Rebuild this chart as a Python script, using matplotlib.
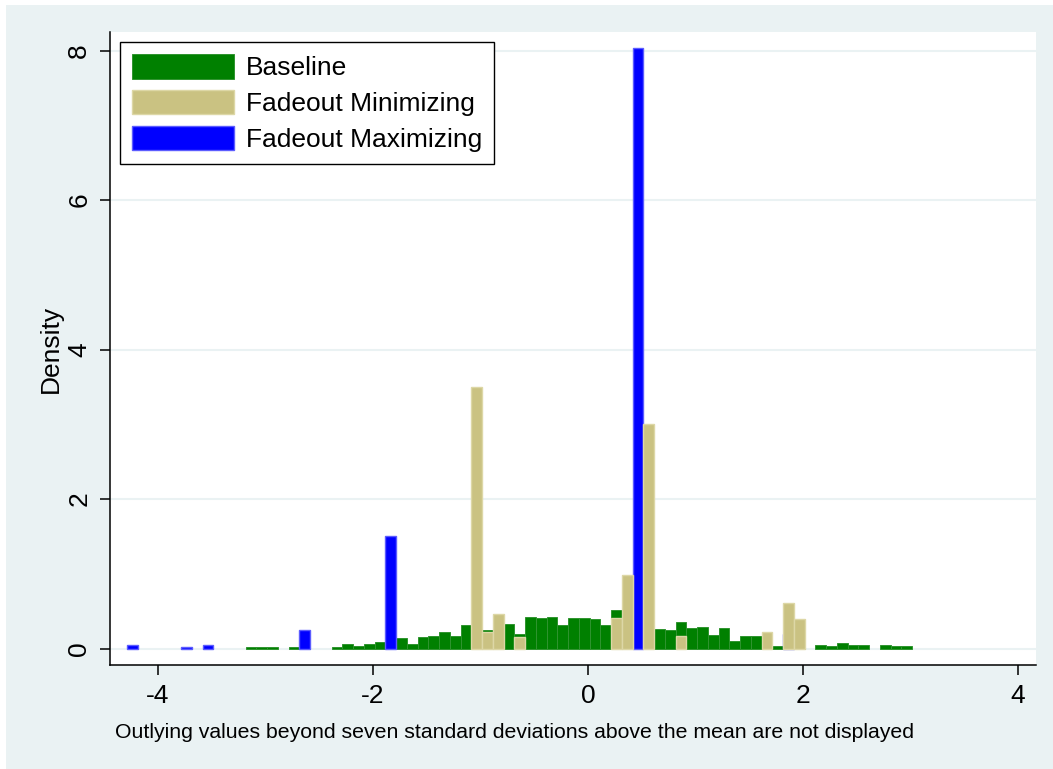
#!/usr/bin/env python3
"""
Overlaid density histograms: baseline vs fadeout-minimizing vs fadeout-maximizing.
"""

import numpy as np
import matplotlib
matplotlib.use("Agg")
import matplotlib.pyplot as plt
from matplotlib.patches import Rectangle

# bin width shared by all three histograms
bin_width = 0.1

# Baseline: bins start at -3.185, one height per bin
baseline_start = -3.185
baseline_density = [
    0.025, 0.025, 0.025, 0.0, 0.025, 0.025, 0.0, 0.0, 0.025, 0.056,
    0.038, 0.056, 0.083, 0.10, 0.136, 0.065, 0.152, 0.167, 0.216, 0.163,
    0.314, 0.25, 0.248, 0.30, 0.328, 0.19, 0.417, 0.404, 0.417, 0.314,
    0.404, 0.404, 0.39, 0.314, 0.51, 0.35, 0.30, 0.30, 0.265, 0.248,
    0.36, 0.279, 0.292, 0.18, 0.274, 0.096, 0.167, 0.167, 0.10, 0.038,
    0.05, 0.05, 0.0, 0.051, 0.038, 0.069, 0.042, 0.042, 0.0, 0.042,
    0.029, 0.029,
]

# Fadeout minimizing: left bin edges and densities
fade_min_left = [-1.085, -0.985, -0.885, -0.685, 0.215, 0.315, 0.515,
                 0.815, 1.615, 1.815, 1.915]
fade_min_density = [3.50, 0.216, 0.457, 0.154, 0.41, 0.98, 3.01,
                    0.163, 0.216, 0.604, 0.40]

# Fadeout maximizing: left bin edges and densities
fade_max_left = [-4.285, -3.785, -3.585, -2.685, -1.885, 0.415, 1.815]
fade_max_density = [0.042, 0.025, 0.042, 0.248, 1.505, 8.03, 0.20]

x_ticks = [-4, -2, 0, 2, 4]
y_ticks = [0, 2, 4, 6, 8]

note = ("Outlying values beyond seven standard deviations above "
        "the mean are not displayed")

BG = "#EAF2F3"


def make_plot():
    plt.rcParams["font.family"] = ["Liberation Sans", "DejaVu Sans"]
    plt.rcParams["axes.unicode_minus"] = False

    fig = plt.figure(figsize=(10.53, 7.69), dpi=100, facecolor="white")
    # graph region (Stata s2color look)
    fig.patches.append(Rectangle((6 / 1053, 0), 1 - 6 / 1053, 1 - 5 / 769,
                                 transform=fig.transFigure, facecolor=BG,
                                 edgecolor="none", zorder=-10))

    ax = fig.add_axes([110 / 1053, 104 / 769, 926 / 1053, 633 / 769])
    ax.set_facecolor("white")

    # baseline
    base = np.array(baseline_density)
    base_left = baseline_start + bin_width * np.arange(len(base))
    keep = base > 0
    b1 = ax.bar(base_left[keep], base[keep], width=bin_width, align="edge",
                color="#008000", edgecolor="#2f942f", linewidth=0.7,
                zorder=2, label="Baseline")
    # fadeout maximizing drawn before minimizing
    b3 = ax.bar(fade_max_left, fade_max_density, width=bin_width, align="edge",
                color="#0000FF", edgecolor="#5c5cff", linewidth=1.0,
                zorder=3, label="Fadeout Maximizing")
    b2 = ax.bar(fade_min_left, fade_min_density, width=bin_width, align="edge",
                color="#CAC282", edgecolor="#DDD7A6", linewidth=1.0,
                zorder=4, label="Fadeout Minimizing")

    ax.set_xlim(-4.447, 4.167)
    ax.set_ylim(-0.22, 8.25)
    ax.set_xticks(x_ticks)
    ax.set_yticks(y_ticks)
    ax.set_xticklabels([str(t) for t in x_ticks], fontsize=19)
    ax.set_yticklabels([str(t) for t in y_ticks], fontsize=19, rotation=90,
                       va="center")
    ax.tick_params(axis="both", direction="out", length=7.5, width=1.1,
                   color="black", pad=6)

    ax.grid(axis="y", color=BG, linewidth=1.5, zorder=0.5)
    ax.set_axisbelow(True)

    for side in ["top", "right"]:
        ax.spines[side].set_visible(False)
    for side in ["left", "bottom"]:
        ax.spines[side].set_linewidth(1.1)

    ax.set_ylabel("Density", fontsize=19, labelpad=3)
    # note sits left-aligned under the plot region, as in Stata
    fig.text(115 / 1053, 1 - 732 / 769, note, fontsize=15.3,
             ha="left", va="center")

    fs = 19
    fs_px = fs * 100 / 72
    leg = ax.legend(handles=[b1, b2, b3], loc="upper left", fontsize=fs,
                    handlelength=102 / fs_px, handleheight=28 / fs_px,
                    labelspacing=9.5 / fs_px, handletextpad=12 / fs_px,
                    borderpad=0.45, borderaxespad=0.38, fancybox=False,
                    framealpha=1, edgecolor="black")
    leg.get_frame().set_linewidth(1.0)

    fig.savefig("out.png", dpi=100, facecolor=fig.get_facecolor())
    plt.close(fig)


if __name__ == "__main__":
    make_plot()
